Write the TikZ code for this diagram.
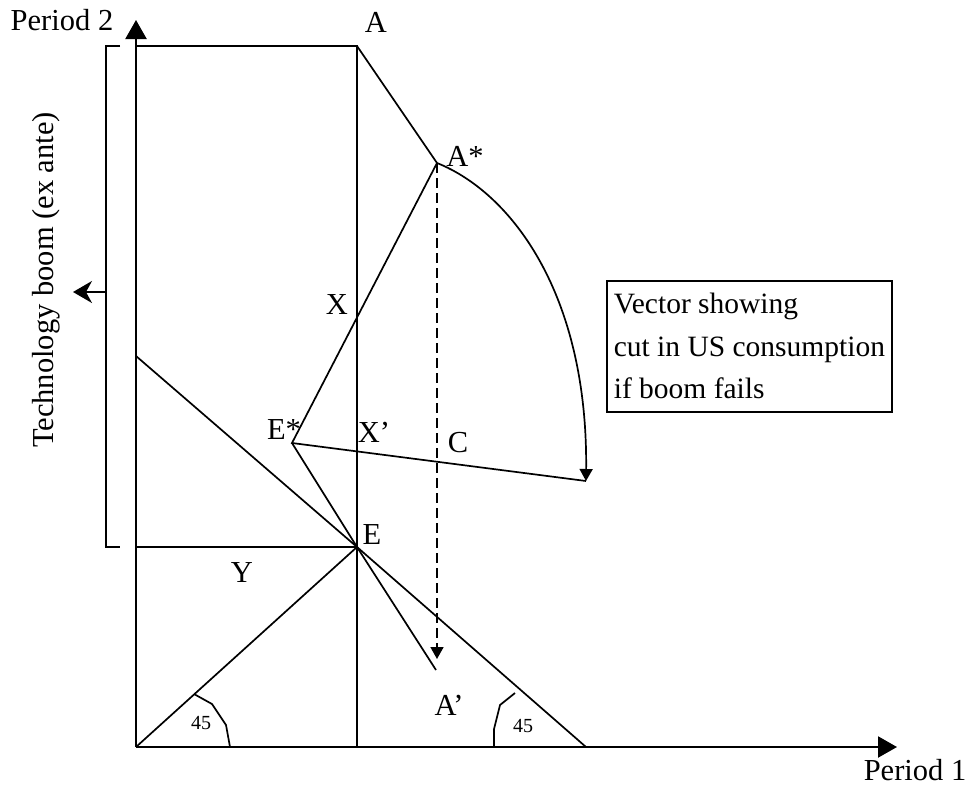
\documentclass[tikz,border=0pt]{standalone}
\usepackage{fontspec}
\setmainfont{Liberation Serif}
\usetikzlibrary{arrows.meta, positioning, calc}
\tikzset{
  axisline/.style={
    -{Triangle[length=19pt,width=21pt]}, line width=2.2pt
  },
  plotline/.style={
    line width=1.7pt, line join=miter
  },
  cutarrow/.style={
    -{Triangle[length=12pt,width=13pt]}, line width=1.7pt
  },
  boomarrow/.style={
    -{Stealth[length=19pt,width=22pt,inset=6pt]}, line width=1.7pt
  },
  pointlabel/.style={
    font=\fontsize{30.5}{36}\selectfont, inner sep=0pt
  },
  anglelabel/.style={
    font=\fontsize{20}{24}\selectfont, inner sep=0pt
  },
  notebox/.style={
    draw, line width=1.6pt, align=left, anchor=north west,
    font=\fontsize{29.5}{42.5}\selectfont,
    minimum height=131pt, inner xsep=7pt, inner ysep=4pt
  },
}

\begin{document}
\begin{tikzpicture}[x=1pt, y=-1pt]
  \useasboundingbox (0,0) rectangle (972,787);

  % ── Points ──
  \coordinate (O) at (136,747);
  \coordinate (ytip) at (136,20);
  \coordinate (xtip) at (897,747);
  \coordinate (A) at (357,46);
  \coordinate (Aleft) at (136,46);
  \coordinate (Abase) at (357,747);
  \coordinate (Astar) at (437,163);
  \coordinate (Estar) at (292,443);
  \coordinate (E) at (357,547);
  \coordinate (Eleft) at (136,547);
  \coordinate (Aprime) at (436,670);
  \coordinate (Adrop) at (437,659);
  \coordinate (Cend) at (586,481);
  \coordinate (budgettop) at (136,356);
  \coordinate (budgetfoot) at (586,747);
  \coordinate (brackettop) at (106,46);
  \coordinate (bracketbot) at (106,547);
  \coordinate (bracketmid) at (106,292);
  \coordinate (boomtip) at (73,292);

  % ── Axes ──
  \draw[axisline] (O) -- (ytip);
  \draw[axisline] (O) -- (xtip);

  % ── Lines ──
  \draw[plotline] (Aleft) -- (A) -- (Abase);
  \draw[plotline] (A) -- (Astar);
  \draw[plotline] (Eleft) -- (E);
  \draw[plotline] (O) -- (E);
  \draw[plotline] (budgettop) -- (E) -- (budgetfoot);
  \draw[plotline] (Astar) -- (Estar) -- (Cend);
  \draw[plotline] (Estar) -- (E) -- (Aprime);

  % ── Cut vectors ──
  \draw[cutarrow, dash pattern=on 10pt off 5pt] (Astar) -- (Adrop);
  \draw[cutarrow] (Astar) .. controls (512,193) and (588,295) .. (Cend);

  % ── Bracket ──
  \draw[plotline] ($(brackettop)+(14,0)$) -- (brackettop) -- (bracketbot) -- ($(bracketbot)+(14,0)$);
  \draw[boomarrow] (bracketmid) -- (boomtip);

  % ── 45 degree marks ──
  \draw[plotline] (194,694) -- (212,704) -- (226,725) -- (230,747);
  \draw[plotline] (515,693) -- (500,705) -- (494,729) -- (494,747);
  \node[anglelabel] (leftangle) at (201,723) {45};
  \node[anglelabel] (rightangle) at (523,726) {45};

  % ── Labels ──
  \node[pointlabel] (period2) at (62,20) {Period 2};
  \node[pointlabel] (period1) at (915,770) {Period 1};
  \node[pointlabel, rotate=90] (boomlabel) at (46,280) {Technology boom (ex ante)};
  \node[pointlabel] (Alabel) at (376,22) {A};
  \node[pointlabel] (Astarlabel) at (465,156) {A*};
  \node[pointlabel] (Xlabel) at (337,305) {X};
  \node[pointlabel] (Estarlabel) at (284,430) {E*};
  \node[pointlabel] (Xprimelabel) at (374,432) {X’};
  \node[pointlabel] (Clabel) at (458,443) {C};
  \node[pointlabel] (Elabel) at (372,535) {E};
  \node[pointlabel] (Ylabel) at (242,573) {Y};
  \node[pointlabel] (Aprimelabel) at (449,705) {A’};

  % ── Note ──
  \node[notebox] (note) at (606,280) {Vector showing\\cut in US consumption\\if boom fails};
\end{tikzpicture}
\end{document}
